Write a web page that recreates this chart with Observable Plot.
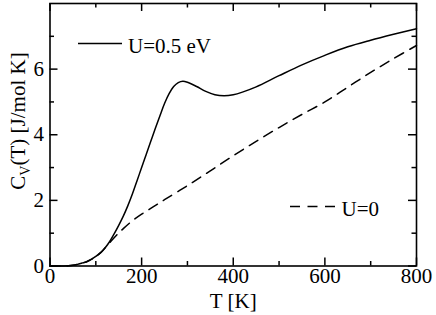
<!DOCTYPE html>
<html>
<head>
<meta charset="utf-8">
<script src="https://cdn.jsdelivr.net/npm/d3@7"></script>
<script src="https://cdn.jsdelivr.net/npm/@observablehq/plot@0.6"></script>
<style>
  html, body { margin: 0; padding: 0; background: #fff; }
</style>
</head>
<body>
<script>
// ---- data ----
const xMajorTicks = [0, 200, 400, 600, 800];
const xMinorTicks = [100, 300, 500, 700];
const yMajorTicks = [0, 2, 4, 6];
const yMinorTicks = [1, 3, 5, 7];

const T_U05 = [0, 30, 40, 50, 60, 70, 80, 90, 100, 110, 120, 130, 140, 150, 160, 170, 180, 190, 200, 210, 220, 230, 240, 250, 260, 270, 280, 290, 300, 320, 340, 360, 380, 400, 420, 450, 500, 550, 600, 650, 700, 750, 800];
const C_U05 = [0, 0, 0.005, 0.02, 0.05, 0.09, 0.13, 0.2, 0.29, 0.4, 0.55, 0.74, 0.98, 1.24, 1.52, 1.84, 2.2, 2.6, 3.0, 3.4, 3.8, 4.2, 4.58, 4.95, 5.25, 5.47, 5.59, 5.63, 5.6, 5.47, 5.32, 5.22, 5.19, 5.22, 5.3, 5.46, 5.8, 6.13, 6.42, 6.68, 6.88, 7.06, 7.23];

const T_U0 = [0, 30, 40, 50, 60, 70, 80, 90, 100, 110, 120, 140, 160, 180, 200, 225, 250, 300, 350, 400, 450, 500, 550, 600, 650, 700, 750, 800];
const C_U0 = [0, 0, 0.005, 0.02, 0.05, 0.09, 0.13, 0.2, 0.29, 0.4, 0.55, 0.86, 1.14, 1.38, 1.58, 1.8, 2.02, 2.45, 2.9, 3.36, 3.8, 4.22, 4.62, 5.0, 5.45, 5.9, 6.32, 6.72];

const seriesLabels = ["U=0.5 eV", "U=0"];
const xLabel = "T [K]";
const yLabelMain = "C";
const yLabelSub = "V";
const yLabelRest = "(T) [J/mol K]";

// ---- build ----
const u05 = T_U05.map((t, i) => ({T: t, C: C_U05[i]}));
const u0 = T_U0.map((t, i) => ({T: t, C: C_U0[i]}));

const W = 436, H = 315;
const mL = 49.5, mR = 20, mT = 3, mB = 49.5;
const plotW = W - mL - mR, plotH = H - mT - mB;
const major = 8, minor = 4.5;
const font = "Liberation Serif";

const svg = Plot.plot({
  width: W, height: H,
  marginLeft: mL, marginRight: mR, marginTop: mT, marginBottom: mB,
  style: {background: "white", color: "black"},
  x: {domain: [0, 800]},
  y: {domain: [0, 8]},
  marks: [
    Plot.axisX({ticks: xMajorTicks, tickSize: 0, tickPadding: 2, label: null, fontSize: 21}),
    Plot.axisY({ticks: yMajorTicks, tickSize: 0, tickPadding: 6, label: null, fontSize: 21}),
    Plot.line(u0, {x: "T", y: "C", curve: "catmull-rom", stroke: "black", strokeWidth: 1.5, strokeDasharray: "10,7"}),
    Plot.line(u05, {x: "T", y: "C", curve: "catmull-rom", stroke: "black", strokeWidth: 1.5}),
    Plot.tickX(xMajorTicks, {x: d => d, insetTop: plotH - major, strokeWidth: 1.5}),
    Plot.tickX(xMinorTicks, {x: d => d, insetTop: plotH - minor, strokeWidth: 1.5}),
    Plot.tickX(xMajorTicks, {x: d => d, insetBottom: plotH - major, strokeWidth: 1.5}),
    Plot.tickX(xMinorTicks, {x: d => d, insetBottom: plotH - minor, strokeWidth: 1.5}),
    Plot.tickY(yMajorTicks, {y: d => d, insetRight: plotW - major, strokeWidth: 1.5}),
    Plot.tickY(yMinorTicks, {y: d => d, insetRight: plotW - minor, strokeWidth: 1.5}),
    Plot.tickY(yMajorTicks, {y: d => d, insetLeft: plotW - major, strokeWidth: 1.5}),
    Plot.tickY(yMinorTicks, {y: d => d, insetLeft: plotW - minor, strokeWidth: 1.5}),
    Plot.frame({stroke: "black", strokeWidth: 1.6}),
    Plot.text([xLabel], {text: d => d, frameAnchor: "bottom", dy: 35, lineAnchor: "middle", fontSize: 21})
  ]
});

const sel = d3.select(svg);
const yl = sel.append("text")
  .attr("transform", "translate(25,121) rotate(-90)")
  .attr("text-anchor", "middle")
  .attr("font-size", 21)
  .attr("fill", "black");
yl.append("tspan").text(yLabelMain);
yl.append("tspan").attr("font-size", 14).attr("dy", 5).text(yLabelSub);
yl.append("tspan").attr("dy", -5).text(yLabelRest);

const lg = sel.append("g").attr("fill", "black");
lg.append("line").attr("x1", 78).attr("x2", 122).attr("y1", 43.5).attr("y2", 43.5)
  .attr("stroke", "black").attr("stroke-width", 1.5);
lg.append("text").attr("x", 128).attr("y", 53).attr("text-anchor", "start").attr("font-size", 21).text(seriesLabels[0]);
lg.append("line").attr("x1", 290).attr("x2", 335).attr("y1", 206.5).attr("y2", 206.5)
  .attr("stroke", "black").attr("stroke-width", 1.5).attr("stroke-dasharray", "10,7.5");
lg.append("text").attr("x", 341.5).attr("y", 216).attr("text-anchor", "start").attr("font-size", 21).text(seriesLabels[1]);

svg.setAttribute("font-family", font);
sel.selectAll("text").attr("font-family", font);
sel.selectAll("g").each(function() {
  if (this.getAttribute("font-family")) this.setAttribute("font-family", font);
});

document.body.appendChild(svg);
</script>
</body>
</html>
